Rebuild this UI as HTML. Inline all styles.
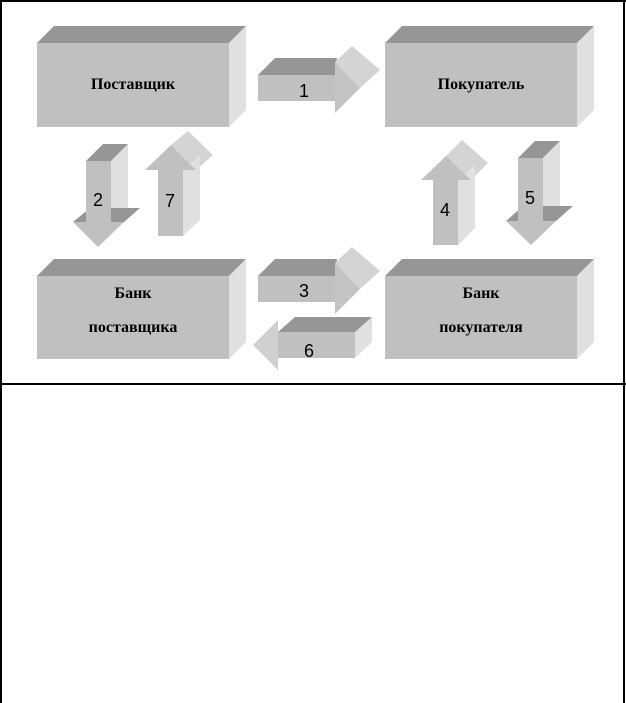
<!DOCTYPE html>
<html><head><meta charset="utf-8"><style>
body{margin:0;background:#fff}
svg{display:block}
text{font-family:"Liberation Serif","DejaVu Serif",serif;font-weight:bold;font-size:16px;fill:#000;text-anchor:middle}
.n{font-family:"Liberation Sans",sans-serif;font-weight:normal;font-size:18px}
</style></head><body>
<svg width="626" height="703" viewBox="0 0 626 703">
<g stroke="none">
<polygon points="37,43 54,26 246,26 229,43" fill="#969696"/>
<polygon points="229,43 246,26 246,110 229,127" fill="#e0e0e0"/>
<rect x="37" y="43" width="192" height="84" fill="#c0c0c0"/>
<polygon points="385,43 402,26 594,26 577,43" fill="#969696"/>
<polygon points="577,43 594,26 594,110 577,127" fill="#e0e0e0"/>
<rect x="385" y="43" width="192" height="84" fill="#c0c0c0"/>
<polygon points="37,276 54,259 246,259 229,276" fill="#969696"/>
<polygon points="229,276 246,259 246,342 229,359" fill="#e0e0e0"/>
<rect x="37" y="276" width="192" height="83" fill="#c0c0c0"/>
<polygon points="385,276 402,259 594,259 577,276" fill="#969696"/>
<polygon points="577,276 594,259 594,342 577,359" fill="#e0e0e0"/>
<rect x="385" y="276" width="192" height="83" fill="#c0c0c0"/>

<!-- arrow 1 -->
<polygon points="258,75 275,58 337,58 335,75" fill="#969696"/>
<polygon points="335,62 352,46 380,70 360,88" fill="#d4d4d4"/>
<rect x="258" y="75" width="78" height="26" fill="#c0c0c0"/>
<polygon points="335,62 360,88 335,113" fill="#c4c4c4"/>
<!-- arrow 3 -->
<polygon points="258,276 275,259 337,259 335,276" fill="#969696"/>
<polygon points="335,263 352,247 380,271 360,289" fill="#d4d4d4"/>
<rect x="258" y="276" width="78" height="26" fill="#c0c0c0"/>
<polygon points="335,263 360,289 335,314" fill="#c4c4c4"/>
<!-- arrow 6 -->
<polygon points="278,320 253,345 278,370" fill="#d0d0d0"/>
<polygon points="278,332 295,317 372,317 355,332" fill="#969696"/>
<polygon points="355,332 372,317 372,342 355,358" fill="#e0e0e0"/>
<rect x="278" y="332" width="77" height="26" fill="#c0c0c0"/>
<!-- arrow 2 -->
<polygon points="86,161 103,144 128,144 111,161" fill="#969696"/>
<polygon points="111,161 128,144 128,208 111,222" fill="#e0e0e0"/>
<polygon points="73,222 90,208 140,208 124,222" fill="#969696"/>
<rect x="86" y="161" width="25" height="62" fill="#c0c0c0"/>
<polygon points="73,222 124,222 98,247" fill="#c0c0c0"/>
<!-- arrow 7 -->
<polygon points="171,145 188,131 213,155 196,170" fill="#d4d4d4"/>
<polygon points="183,170 200,155 200,220 183,236" fill="#e0e0e0"/>
<rect x="158" y="170" width="25" height="66" fill="#c0c0c0"/>
<polygon points="145,170 171,145 196,170" fill="#c0c0c0"/>
<!-- arrow 4 -->
<polygon points="446,156 462,140 488,163 471,180" fill="#d4d4d4"/>
<polygon points="458,180 475,165 475,228 458,245" fill="#e0e0e0"/>
<rect x="433" y="179" width="25" height="66" fill="#c0c0c0"/>
<polygon points="421,180 446,156 471,180" fill="#c0c0c0"/>
<!-- arrow 5 -->
<polygon points="518,158 535,141 560,141 543,158" fill="#969696"/>
<polygon points="543,158 560,141 560,206 543,221" fill="#e0e0e0"/>
<polygon points="506,221 523,206 573,206 556,221" fill="#969696"/>
<rect x="518" y="158" width="25" height="64" fill="#c0c0c0"/>
<polygon points="506,221 556,221 531,245" fill="#c0c0c0"/>
</g>

<text x="133" y="89">Поставщик</text>
<text x="481" y="89">Покупатель</text>
<text x="133" y="298">Банк</text>
<text x="133" y="332">поставщика</text>
<text x="481" y="298">Банк</text>
<text x="481" y="332">покупателя</text>
<text class="n" x="304" y="97">1</text>
<text class="n" x="98" y="206">2</text>
<text class="n" x="170" y="207">7</text>
<text class="n" x="445" y="216">4</text>
<text class="n" x="530" y="204">5</text>
<text class="n" x="304" y="297">3</text>
<text class="n" x="309" y="357">6</text>

<g stroke="#000" stroke-width="2" fill="none">
<line x1="0" y1="1" x2="626" y2="1"/>
<line x1="1" y1="0" x2="1" y2="703"/>
<line x1="624" y1="0" x2="624" y2="703"/>
<line x1="0" y1="384" x2="626" y2="384"/>
</g>
</svg>
</body></html>
